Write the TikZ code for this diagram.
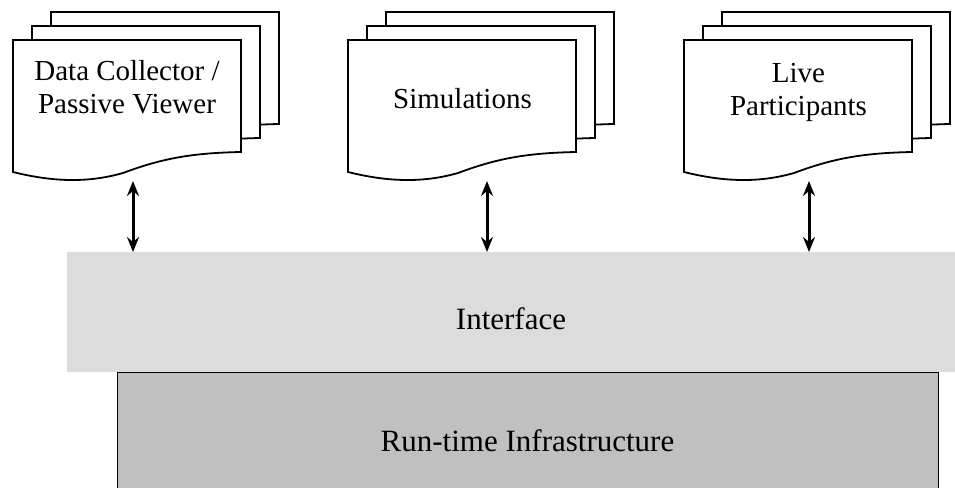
\documentclass[tikz,border=0pt]{standalone}
\usepackage{fontspec}
\setmainfont{Liberation Serif}
\usetikzlibrary{arrows.meta}
\definecolor{ifacegray}{HTML}{DCDCDC}
\definecolor{rtigray}{HTML}{C0C0C0}
\tikzset{
  page/.style={draw=black,line width=1.8pt,fill=white,line join=miter},
  doctext/.style={font=\fontsize{29}{33}\selectfont,align=center,inner sep=0pt},
  bigtext/.style={font=\fontsize{31}{35}\selectfont,inner sep=0pt},
  link/.style={{Stealth[length=15pt,width=12pt,inset=5pt]}-{Stealth[length=15pt,width=12pt,inset=5pt]},line width=3pt},
  docpage/.pic={\path[page] (0,0) -- (228,0) -- (228,112)
      .. controls (180,113) and (150,118) .. (110,133)
      .. controls (75,143) and (40,142) .. (0,132) -- cycle;},
  docstack/.pic={
    \pic at (38,-28) {docpage};
    \pic at (19,-14) {docpage};
    \pic at (0,0) {docpage};}
}
\begin{document}
\begin{tikzpicture}[x=1pt,y=-1pt]
\useasboundingbox (0,0) rectangle (955,487);

% interface and RTI layers
\node[fill=ifacegray,minimum width=888pt,minimum height=120pt,inner sep=0pt,anchor=north west] (iface) at (67,252) {};
\node[bigtext] (ifacelabel) at (511,319) {Interface};
\node[draw=black,line width=1.2pt,fill=rtigray,minimum width=821pt,minimum height=124pt,inner sep=0pt,anchor=north west] (rti) at (117,372) {};
\node[bigtext] (rtilabel) at (527.5,441) {Run-time Infrastructure};

% document stacks
\pic at (13,40) {docstack};
\node[doctext] (d1) at (127,87) {Data Collector /\\Passive Viewer};
\pic at (348,40) {docstack};
\node[doctext] (d2) at (462.5,99) {Simulations};
\pic at (684,40) {docstack};
\node[doctext] (d3) at (798.5,92) {Live\\Participants};

% connectors
\coordinate (a1) at (133,181);
\coordinate (a2) at (487,181);
\coordinate (a3) at (809,181);
\draw[link] (a1) -- (a1 |- iface.north);
\draw[link] (a2) -- (a2 |- iface.north);
\draw[link] (a3) -- (a3 |- iface.north);
\end{tikzpicture}
\end{document}
